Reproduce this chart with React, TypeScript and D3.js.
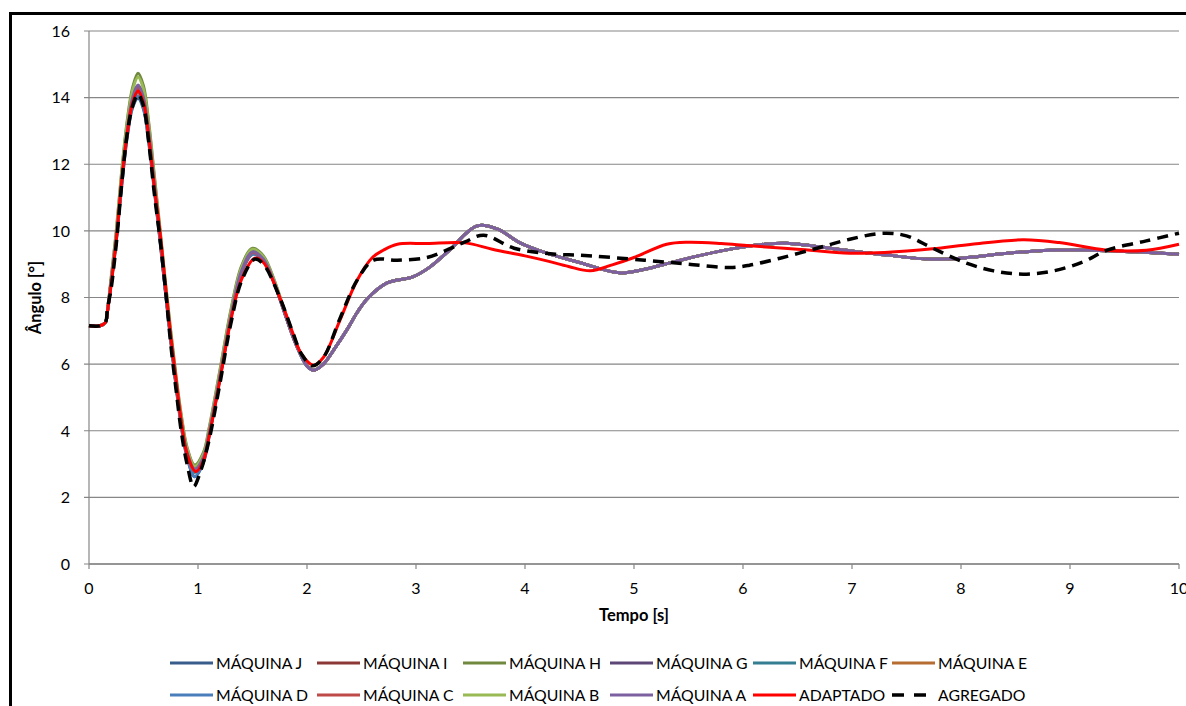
import React from 'react';
import * as d3 from 'd3';

// time grid for the 10 machine curves (they only differ before ~2.5 s)
const EARLY_T = [0, 0.1, 0.15, 0.17, 0.2, 0.25, 0.3, 0.35, 0.4, 0.45, 0.5, 0.55, 0.6, 0.65, 0.7, 0.75, 0.8, 0.85, 0.9, 0.97, 1.05, 1.1, 1.2, 1.3, 1.4, 1.5, 1.6, 1.7, 1.8, 1.9, 2.0, 2.06, 2.15, 2.25, 2.37, 2.46];

const MAQ_J = [7.15, 7.15, 7.25, 7.6, 8.35, 9.7, 11.35, 12.8, 13.7, 13.98, 13.65, 12.6, 11.2, 9.75, 8.2, 6.7, 5.3, 4.05, 3.2, 2.62, 3.05, 3.8, 5.55, 7.35, 8.75, 9.3, 9.1, 8.42, 7.48, 6.58, 5.94, 5.82, 6.0, 6.45, 7.05, 7.55];
const MAQ_I = [7.15, 7.15, 7.25, 7.6, 8.4, 9.8, 11.5, 12.95, 13.95, 14.3, 13.95, 12.85, 11.35, 9.85, 8.28, 6.78, 5.38, 4.18, 3.32, 2.8, 3.16, 3.88, 5.6, 7.4, 8.78, 9.33, 9.12, 8.44, 7.5, 6.6, 5.95, 5.82, 6.0, 6.45, 7.05, 7.55];
const MAQ_H = [7.15, 7.15, 7.25, 7.62, 8.5, 10.0, 11.8, 13.3, 14.3, 14.73, 14.35, 13.2, 11.65, 10.1, 8.5, 7.0, 5.6, 4.4, 3.5, 2.97, 3.35, 4.05, 5.8, 7.6, 8.95, 9.48, 9.25, 8.52, 7.55, 6.62, 5.96, 5.83, 6.0, 6.45, 7.05, 7.55];
const MAQ_G = [7.15, 7.15, 7.25, 7.6, 8.4, 9.8, 11.5, 13.0, 14.0, 14.35, 14.0, 12.9, 11.4, 9.9, 8.3, 6.8, 5.4, 4.2, 3.35, 2.85, 3.2, 3.9, 5.62, 7.42, 8.8, 9.38, 9.15, 8.45, 7.5, 6.6, 5.95, 5.82, 6.0, 6.45, 7.05, 7.55];
const MAQ_F = [7.15, 7.15, 7.25, 7.6, 8.38, 9.75, 11.42, 12.9, 13.85, 14.15, 13.8, 12.72, 11.28, 9.8, 8.24, 6.74, 5.35, 4.14, 3.28, 2.75, 3.12, 3.85, 5.58, 7.38, 8.77, 9.33, 9.12, 8.44, 7.5, 6.6, 5.95, 5.82, 6.0, 6.45, 7.05, 7.55];
const MAQ_E = [7.15, 7.15, 7.25, 7.6, 8.38, 9.76, 11.45, 12.92, 13.88, 14.2, 13.85, 12.76, 11.3, 9.82, 8.26, 6.76, 5.37, 4.16, 3.3, 2.8, 3.15, 3.87, 5.6, 7.4, 8.78, 9.35, 9.13, 8.44, 7.5, 6.6, 5.95, 5.82, 6.0, 6.45, 7.05, 7.55];
const MAQ_D = [7.15, 7.15, 7.25, 7.6, 8.35, 9.72, 11.38, 12.84, 13.76, 14.05, 13.7, 12.65, 11.24, 9.78, 8.22, 6.72, 5.32, 4.08, 3.22, 2.62, 3.06, 3.82, 5.56, 7.36, 8.76, 9.3, 9.1, 8.42, 7.48, 6.58, 5.94, 5.82, 6.0, 6.45, 7.05, 7.55];
const MAQ_C = [7.15, 7.15, 7.25, 7.6, 8.4, 9.8, 11.48, 12.95, 13.93, 14.28, 13.93, 12.84, 11.34, 9.85, 8.28, 6.78, 5.38, 4.18, 3.32, 2.8, 3.16, 3.88, 5.6, 7.4, 8.78, 9.35, 9.13, 8.44, 7.5, 6.6, 5.95, 5.82, 6.0, 6.45, 7.05, 7.55];
const MAQ_B = [7.15, 7.15, 7.25, 7.62, 8.48, 9.95, 11.72, 13.22, 14.22, 14.62, 14.25, 13.12, 11.58, 10.05, 8.45, 6.95, 5.55, 4.35, 3.46, 2.93, 3.3, 4.0, 5.75, 7.55, 8.9, 9.45, 9.22, 8.5, 7.53, 6.62, 5.96, 5.83, 6.0, 6.45, 7.05, 7.55];
const MAQ_A = [7.15, 7.15, 7.25, 7.6, 8.4, 9.8, 11.5, 13.0, 14.0, 14.38, 14.0, 12.9, 11.4, 9.9, 8.3, 6.8, 5.4, 4.2, 3.35, 2.85, 3.2, 3.9, 5.62, 7.42, 8.8, 9.37, 9.15, 8.45, 7.5, 6.6, 5.95, 5.82, 6.0, 6.45, 7.05, 7.55];

// after ~2.5 s all machine curves coincide
const TAIL_T = [2.55, 2.73, 2.97, 3.13, 3.3, 3.56, 3.75, 3.95, 4.2, 4.5, 4.87, 5.1, 5.4, 5.8, 6.2, 6.4, 6.98, 7.3, 7.72, 8.0, 8.4, 8.82, 9.2, 9.6, 10];
const TAIL_V = [7.95, 8.43, 8.62, 8.92, 9.4, 10.15, 10.05, 9.65, 9.33, 9.05, 8.74, 8.85, 9.1, 9.4, 9.6, 9.63, 9.4, 9.28, 9.15, 9.18, 9.32, 9.42, 9.42, 9.37, 9.3];

const ADP_T = [0, 0.1, 0.15, 0.17, 0.2, 0.25, 0.3, 0.35, 0.4, 0.45, 0.5, 0.55, 0.6, 0.65, 0.7, 0.75, 0.8, 0.85, 0.9, 0.98, 1.05, 1.1, 1.2, 1.3, 1.4, 1.52, 1.6, 1.75, 1.87, 1.95, 2.06, 2.15, 2.3, 2.46, 2.6, 2.7, 2.83, 3.1, 3.45, 3.7, 4.0, 4.2, 4.4, 4.6, 4.8, 5.0, 5.3, 5.5, 5.8, 6.06, 6.5, 6.98, 7.3, 7.74, 8.1, 8.57, 8.9, 9.34, 9.7, 10];
const ADP_V = [7.15, 7.15, 7.25, 7.6, 8.3, 9.7, 11.5, 12.9, 13.85, 14.2, 13.85, 12.75, 11.3, 10.0, 8.4, 6.85, 5.5, 4.2, 3.3, 2.77, 3.1, 3.8, 5.5, 7.3, 8.55, 9.18, 9.05, 8.0, 6.93, 6.3, 5.97, 6.2, 7.3, 8.52, 9.2, 9.42, 9.6, 9.62, 9.64, 9.45, 9.25, 9.1, 8.93, 8.8, 8.98, 9.2, 9.6, 9.66, 9.62, 9.55, 9.45, 9.33, 9.35, 9.46, 9.6, 9.73, 9.65, 9.42, 9.42, 9.6];

const AGG_T = [0, 0.1, 0.15, 0.17, 0.2, 0.25, 0.3, 0.35, 0.4, 0.45, 0.5, 0.55, 0.6, 0.65, 0.7, 0.75, 0.8, 0.85, 0.9, 0.96, 1.02, 1.1, 1.2, 1.3, 1.4, 1.52, 1.6, 1.75, 1.87, 1.95, 2.05, 2.15, 2.3, 2.46, 2.61, 2.83, 3.1, 3.3, 3.45, 3.62, 3.9, 4.28, 4.5, 5.1, 5.5, 5.88, 6.06, 6.34, 6.68, 6.98, 7.29, 7.5, 7.74, 8.05, 8.3, 8.57, 8.85, 9.12, 9.34, 9.7, 10];
const AGG_V = [7.15, 7.15, 7.25, 7.7, 8.2, 9.6, 11.4, 12.9, 13.75, 14.1, 13.75, 12.6, 11.1, 9.8, 8.3, 6.6, 5.2, 3.9, 3.0, 2.32, 2.75, 3.7, 5.4, 7.2, 8.5, 9.15, 9.0, 8.0, 6.95, 6.3, 5.95, 6.2, 7.35, 8.52, 9.12, 9.12, 9.2, 9.45, 9.67, 9.87, 9.48, 9.3, 9.27, 9.12, 9.0, 8.9, 8.97, 9.18, 9.48, 9.75, 9.93, 9.85, 9.48, 9.03, 8.8, 8.7, 8.8, 9.07, 9.42, 9.7, 9.93];

const MACHINE_NAMES = ['MÁQUINA J', 'MÁQUINA I', 'MÁQUINA H', 'MÁQUINA G', 'MÁQUINA F', 'MÁQUINA E', 'MÁQUINA D', 'MÁQUINA C', 'MÁQUINA B', 'MÁQUINA A'];
const MACHINE_VALUES = [MAQ_J, MAQ_I, MAQ_H, MAQ_G, MAQ_F, MAQ_E, MAQ_D, MAQ_C, MAQ_B, MAQ_A];
const MACHINE_COLORS = ['#385D8A', '#8C3836', '#71893F', '#5C4776', '#357D91', '#B66D31', '#4A7EBB', '#BE4B48', '#98B954', '#7D60A0'];

const X_TICKS = [0, 1, 2, 3, 4, 5, 6, 7, 8, 9, 10];
const Y_TICKS = [0, 2, 4, 6, 8, 10, 12, 14, 16];

const FONT = 'Lato, "Open Sans", sans-serif';
const W = 1186;
const H = 706;
const LEFT = 89, RIGHT = 1179, TOP = 31, BOTTOM = 564;
const LEGEND_COLS = [170, 317, 463, 610, 753, 892];
const LEGEND_ROWS = [663, 695];

const zip = (t: number[], v: number[]) => t.map((d, i) => [d, v[i]] as [number, number]);

export default function App() {
  const x = d3.scaleLinear().domain([0, 10]).range([LEFT, RIGHT]);
  const y = d3.scaleLinear().domain([0, 16]).range([BOTTOM, TOP]);
  const line = d3.line<[number, number]>()
    .x(d => x(d[0]))
    .y(d => y(d[1]))
    .curve(d3.curveCatmullRom.alpha(0.5));

  const series = [
    ...MACHINE_NAMES.map((name, i) => ({
      name,
      color: MACHINE_COLORS[i],
      dash: null as string | null,
      pts: [...zip(EARLY_T, MACHINE_VALUES[i]), ...zip(TAIL_T, TAIL_V)],
      width: 3,
    })),
    { name: 'ADAPTADO', color: '#FF0000', dash: null, pts: zip(ADP_T, ADP_V), width: 3 },
    { name: 'AGREGADO', color: '#000000', dash: '11,7', pts: zip(AGG_T, AGG_V), width: 3.5 },
  ];

  return (
    <svg width={W} height={H} style={{ position: 'absolute', left: 0, top: 0, background: '#fff' }} fontFamily={FONT}>
      <rect x={10.5} y={13.5} width={W + 20} height={H + 20} fill="#fff" stroke="#000" strokeWidth={3} />

      {Y_TICKS.map(v => (
        <g key={'y' + v}>
          <line x1={LEFT - 5} x2={RIGHT} y1={y(v)} y2={y(v)} stroke="#868686" strokeWidth={1.2} />
          <text x={LEFT - 19} y={y(v)} dy="0.36em" textAnchor="end" fontSize={16} fill="#000">{v}</text>
        </g>
      ))}
      <line x1={LEFT} x2={LEFT} y1={TOP} y2={BOTTOM} stroke="#868686" strokeWidth={1.2} />
      <line x1={LEFT} x2={RIGHT} y1={BOTTOM} y2={BOTTOM} stroke="#868686" strokeWidth={1.6} />
      {X_TICKS.map(v => (
        <g key={'x' + v}>
          <line x1={x(v)} x2={x(v)} y1={BOTTOM} y2={BOTTOM + 5} stroke="#868686" strokeWidth={1.2} />
          <text x={x(v)} y={BOTTOM + 30} textAnchor="middle" fontSize={16} fill="#000">{v}</text>
        </g>
      ))}

      {series.map(s => (
        <path key={s.name} d={line(s.pts) || ''} fill="none" stroke={s.color} strokeWidth={s.width}
          strokeDasharray={s.dash || undefined} strokeLinejoin="round" />
      ))}

      <text x={(LEFT + RIGHT) / 2} y={621} textAnchor="middle" fontSize={16.5} fontWeight="bold" fill="#000">Tempo [s]</text>
      <text transform={`translate(41,${(TOP + BOTTOM) / 2}) rotate(-90)`} textAnchor="middle" fontSize={16.5} fontWeight="bold" fill="#000">Ângulo [°]</text>

      {series.map((s, i) => {
        const cx = LEGEND_COLS[i % 6];
        const cy = LEGEND_ROWS[Math.floor(i / 6)];
        return (
          <g key={'lg' + s.name}>
            <line x1={cx} x2={cx + 43} y1={cy} y2={cy} stroke={s.color} strokeWidth={s.width}
              strokeDasharray={s.dash ? '12,10' : undefined} />
            <text x={cx + 46} y={cy} dy="0.36em" fontSize={15.8} fill="#000">{s.name}</text>
          </g>
        );
      })}
    </svg>
  );
}
